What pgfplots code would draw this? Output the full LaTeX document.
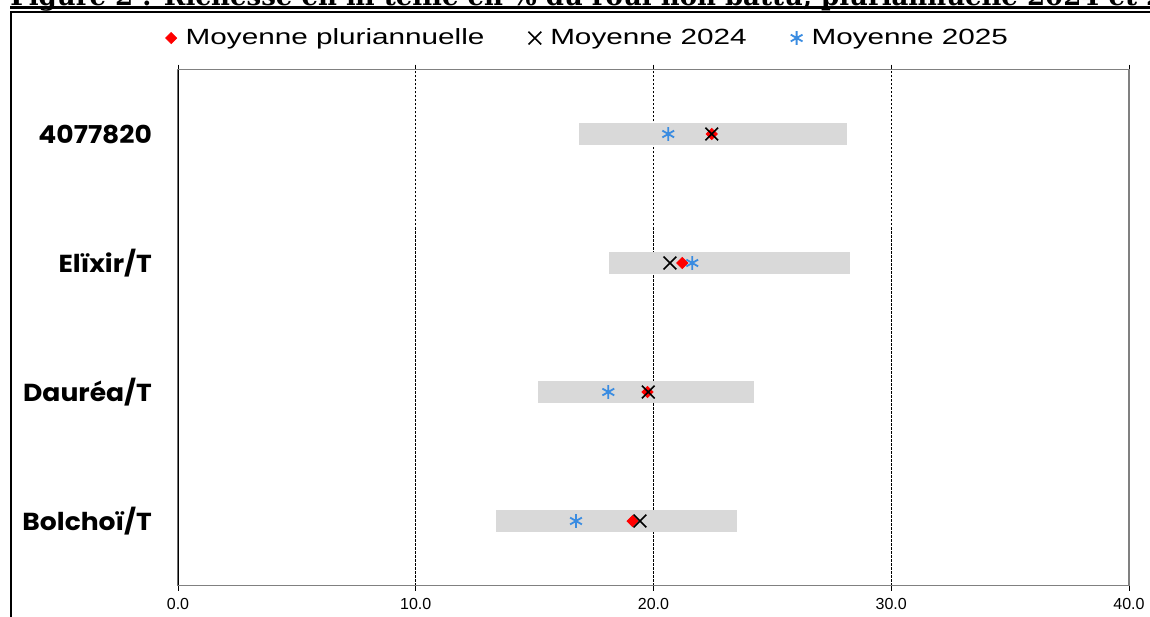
\documentclass[border=0pt]{standalone}
\usepackage{fontspec}
\usepackage{pgfplots}
\pgfplotsset{compat=1.18}
\newfontfamily\legfont[FakeStretch=1.35]{Liberation Sans}
\newfontfamily\tickfont{Liberation Sans}
\newfontfamily\catfont[FakeStretch=1.08]{Poppins}
\newfontfamily\titlefont{DejaVu Serif}
\definecolor{barGray}{RGB}{217,217,217}
\definecolor{starBlue}{RGB}{58,140,225}
\definecolor{axGray}{RGB}{128,128,128}
\begin{document}
\begin{tikzpicture}
\useasboundingbox (0,0) rectangle (575pt,308pt);
\clip (0,0) rectangle (575pt,308pt);
\node[anchor=base west, inner sep=0pt, font=\titlefont\bfseries\fontsize{13}{15}\selectfont] at (5pt,305pt) {Figure 2 : Richesse en fil teillé en \% du roui non battu, pluriannuelle 2024 et 2025};
\draw[line width=1.35pt] (5pt,304.3pt) -- (580pt,304.3pt);
\draw[line width=1pt] (5.25pt,-5pt) -- (5.25pt,302.1pt) -- (580pt,302.1pt);
\begin{axis}[
  at={(89pt,15.25pt)}, anchor=south west, scale only axis,
  width=475.5pt, height=258pt,
  xmin=0, xmax=40, ymin=0.5, ymax=4.5,
  axis line style={draw=axGray, line width=0.6pt},
  tick align=outside, major tick length=2.5pt,
  xtick={0,10,20,30,40}, xticklabels={0.0,10.0,20.0,30.0,40.0},
  xtick style={black, line width=0.4pt},
  xticklabel style={font=\tickfont\fontsize{8}{9}\selectfont, yshift=-0.5pt},
  extra x ticks={10,20,30}, extra x tick labels={},
  extra x tick style={grid=major, major tick length=0pt},
  grid style={black, line width=0.4pt, dash pattern=on 1.2pt off 0.8pt},
  ytick={1,2,3,4},
  yticklabels={Bolchoï/T, Dauréa/T, Elïxir/T, 4077820},
  ytick style={draw=none},
  yticklabel style={font=\catfont\bfseries\fontsize{12.3}{14}\selectfont, anchor=east, xshift=-7pt},
  extra y ticks={0.5,1.5,2.5,3.5,4.5}, extra y tick labels={},
  extra y tick style={major tick length=5.5pt, tick style={draw=axGray, line width=0.6pt}},
  legend style={at={(0.432,1.061)}, anchor=center, draw=none, fill=none,
    legend columns=3, font=\legfont\fontsize{11}{13}\selectfont,
    /tikz/every even column/.append style={column sep=20pt},
    /tikz/every odd column/.append style={column sep=2.5pt}},
  legend image code/.code={\draw[#1] plot coordinates {(0pt,0pt)};},
  legend cell align=left,
]
% ranges
\addplot[barGray, line width=10.85pt, forget plot] coordinates {(16.87,4) (28.13,4)};
\addplot[barGray, line width=10.85pt, forget plot] coordinates {(18.13,3) (28.27,3)};
\addplot[barGray, line width=10.85pt, forget plot] coordinates {(15.16,2) (24.24,2)};
\addplot[barGray, line width=10.85pt, forget plot] coordinates {(13.38,1) (23.53,1)};
% means
\addplot[only marks, mark=square*, mark size=1.95pt, color=red, mark options={draw=red, fill=red, rotate=45}] coordinates {(22.45,4) (21.21,3) (19.75,2) (19.12,1)};
\addlegendentry{Moyenne pluriannuelle}
\addplot[only marks, mark=x, mark size=4.5pt, color=black, line width=0.8pt] coordinates {(22.45,4) (20.69,3) (19.78,2) (19.43,1)};
\addlegendentry{Moyenne 2024}
\addplot[only marks, mark=asterisk, mark size=3.4pt, color=starBlue, line width=0.9pt] coordinates {(20.62,4) (21.63,3) (18.10,2) (16.74,1)};
\addlegendentry{Moyenne 2025}
\draw[black, line width=0.6pt] (axis cs:0,0.5) -- (axis cs:0,4.5);
\draw[axGray, line width=1pt] (axis cs:0,0.5) -- (axis cs:40,0.5);
\end{axis}
\end{tikzpicture}
\end{document}
